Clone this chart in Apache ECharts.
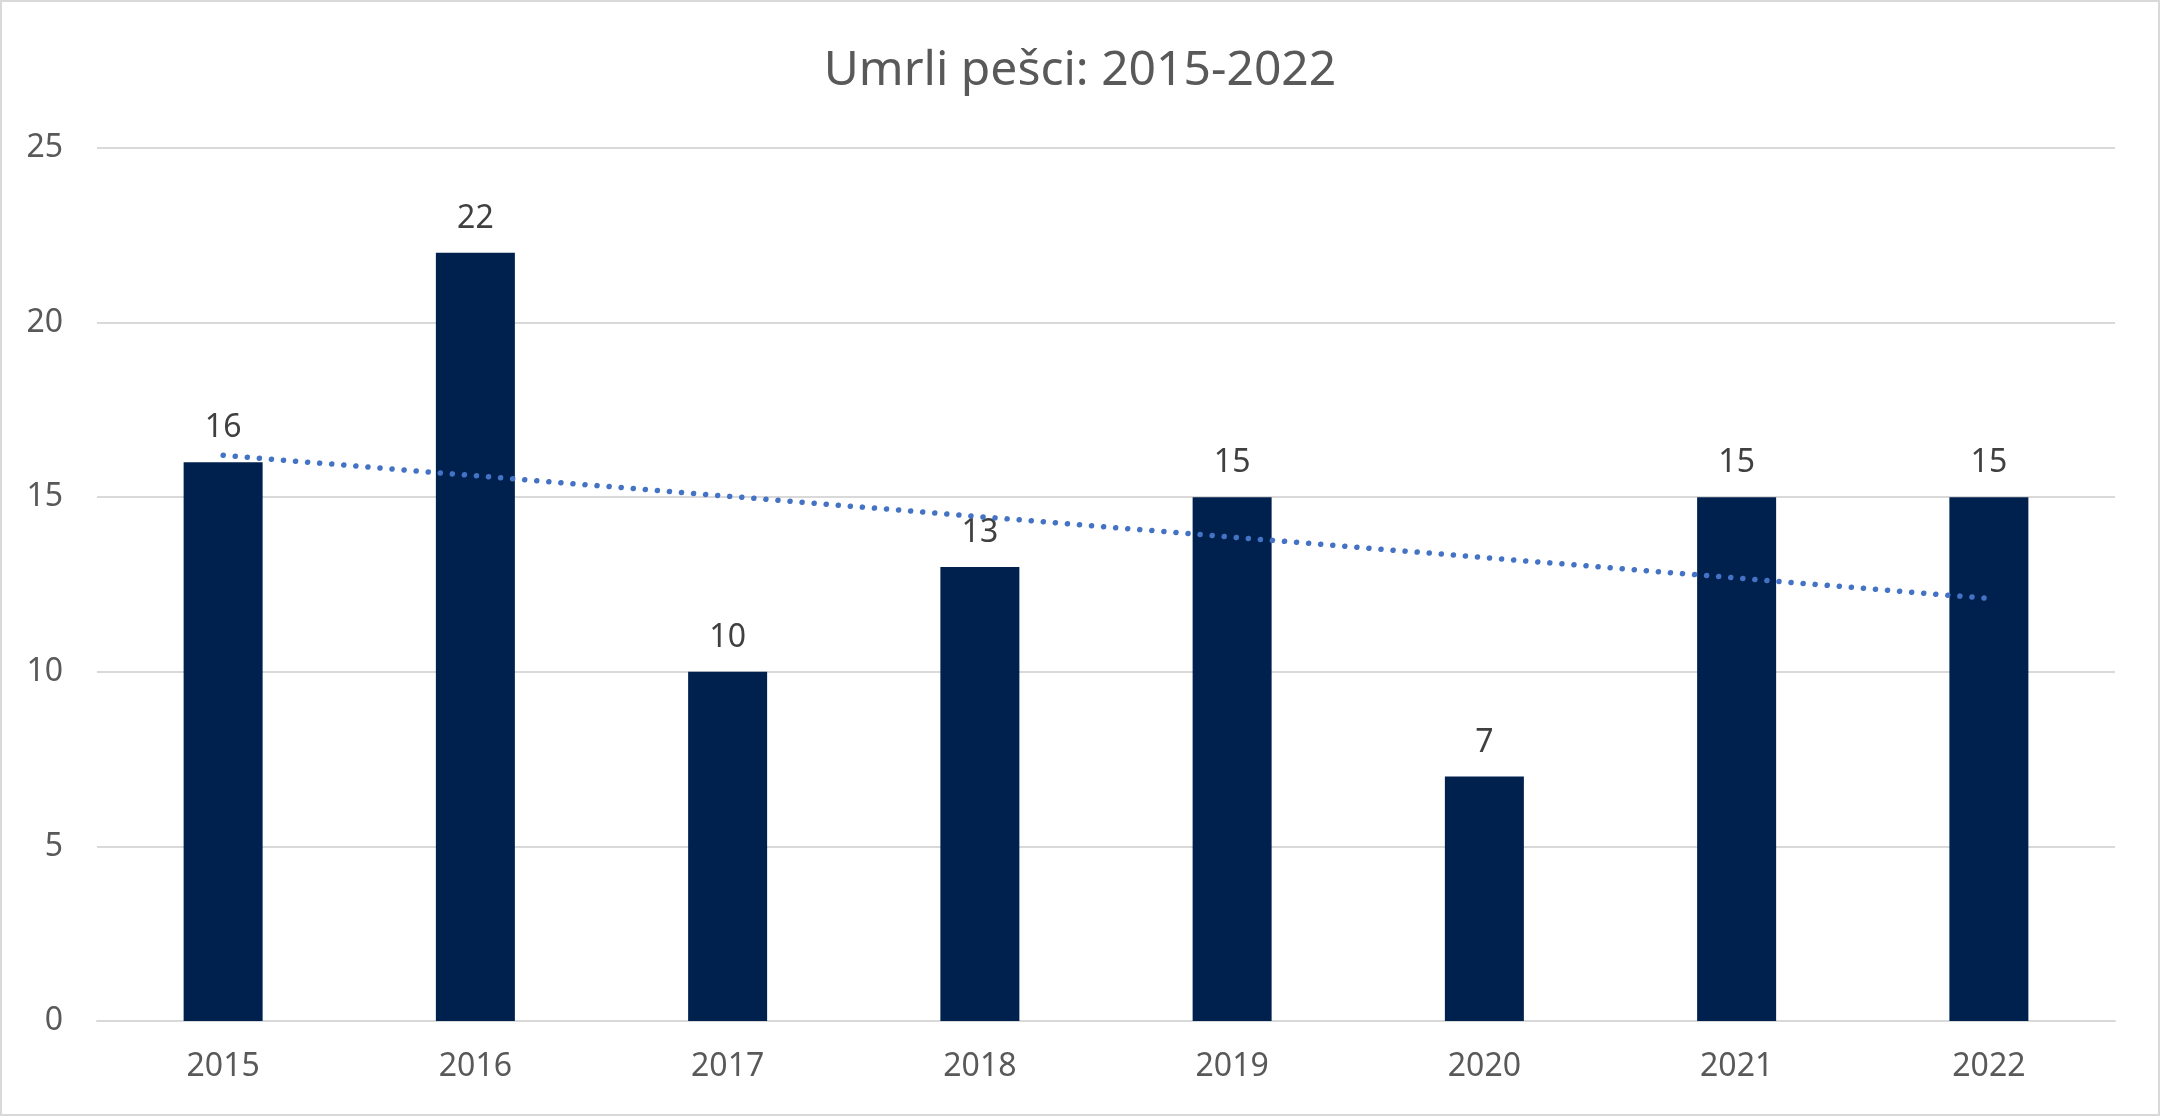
<!DOCTYPE html>
<html>
<head>
<meta charset="utf-8">
<script src="https://cdn.jsdelivr.net/npm/echarts@6/dist/echarts.min.js"></script>
<style>
html,body{margin:0;padding:0;background:#fff;}
#c{width:2160px;height:1116px;}
</style>
</head>
<body>
<div id="c"></div>
<script>
const categories = ['2015','2016','2017','2018','2019','2020','2021','2022'];
const values = [16, 22, 10, 13, 15, 7, 15, 15];
// linear trend line endpoints (first and last category)
const trendStart = 16.2;
const trendEnd = 12.1;
const yTicks = [0, 5, 10, 15, 20, 25];

const trendData = categories.map((c, i) => i === 0 ? trendStart : (i === categories.length - 1 ? trendEnd : null));

const FONT = 'Noto Sans';
const chart = echarts.init(document.getElementById('c'), null, {renderer: 'canvas'});
chart.setOption({
  animation: false,
  backgroundColor: '#ffffff',
  title: {
    text: 'Umrli pešci: 2015-2022',
    left: 'center',
    top: 42,
    textStyle: {fontFamily: FONT, fontSize: 48, fontWeight: 'normal', color: '#595959'}
  },
  graphic: [{
    type: 'rect',
    shape: {x: 1, y: 1, width: 2158, height: 1114},
    style: {fill: null, stroke: '#d9d9d9', lineWidth: 2},
    silent: true
  }],
  grid: {left: 97, right: 45, top: 148, bottom: 95, containLabel: false},
  xAxis: {
    type: 'category',
    data: categories,
    axisLine: {lineStyle: {color: '#d9d9d9', width: 2}},
    axisTick: {show: false},
    axisLabel: {fontFamily: FONT, fontSize: 32, color: '#595959', margin: 30}
  },
  yAxis: {
    type: 'value',
    min: yTicks[0],
    max: yTicks[yTicks.length - 1],
    interval: yTicks[1] - yTicks[0],
    axisLine: {show: false},
    axisTick: {show: false},
    splitLine: {lineStyle: {color: '#d9d9d9', width: 2}},
    axisLabel: {fontFamily: FONT, fontSize: 32, color: '#595959', margin: 34}
  },
  series: [{
    type: 'bar',
    data: values,
    barWidth: 79,
    itemStyle: {color: '#00204e'},
    label: {show: true, position: 'top', distance: 18, fontFamily: FONT, fontSize: 32, color: '#404040'}
  }, {
    type: 'line',
    data: trendData,
    connectNulls: true,
    symbol: 'none',
    z: 5,
    lineStyle: {color: '#4472C4', width: 5.5, type: [0.1, 12], cap: 'round'}
  }]
});
</script>
</body>
</html>
